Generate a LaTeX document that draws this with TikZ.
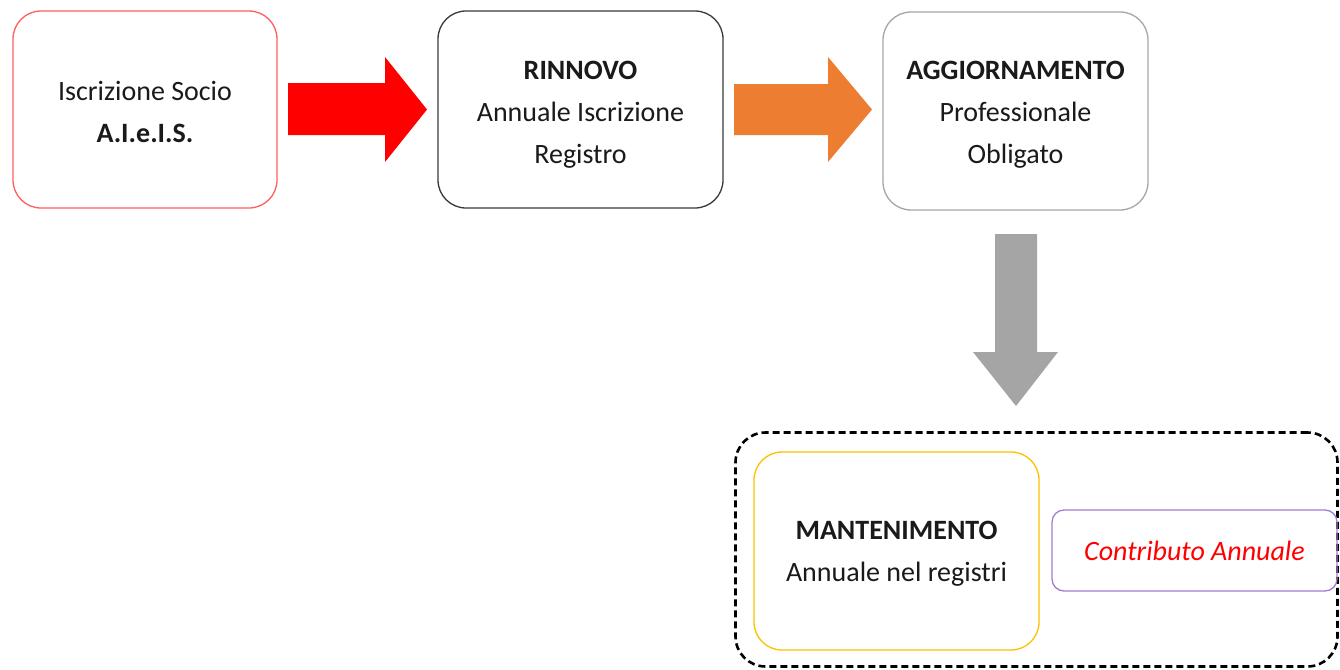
\documentclass[tikz,border=0pt]{standalone}
\usepackage{fontspec}
\setmainfont{Carlito}
\definecolor{txt}{HTML}{1A1A1A}
\definecolor{boxred}{HTML}{FF5F5F}
\definecolor{boxdark}{HTML}{3A3A3A}
\definecolor{boxgray}{HTML}{A6A6A6}
\definecolor{boxgold}{HTML}{FFC000}
\definecolor{boxpurple}{HTML}{A47AD2}
\definecolor{arrred}{HTML}{FF0000}
\definecolor{arrorange}{HTML}{ED7D31}
\definecolor{arrgray}{HTML}{A5A5A5}
\tikzset{
  stepbox/.style={draw, line width=1.3pt, rounded corners=28pt, inner sep=0pt},
  steptext/.style={align=center, text=txt, font=\fontsize{28}{42}\selectfont, inner sep=0pt},
}
\begin{document}
\begin{tikzpicture}[x=1pt,y=-1pt]
\useasboundingbox (0,0) rectangle (1340,669);
\fill[white] (0,0) rectangle (1340,669);

\node[stepbox, draw=boxred, minimum width=264pt, minimum height=197pt] (iscr) at (145,109.5) {};
\node[steptext] (iscrT) at ([yshift=-2.5pt]iscr.center) {Iscrizione Socio\\\textbf{A.I.e.I.S.}};
\node[stepbox, draw=boxdark, minimum width=285pt, minimum height=197pt] (rinn) at (580.5,109.5) {};
\node[steptext] (rinnT) at ([yshift=-5pt]rinn.center) {\textbf{RINNOVO}\\Annuale Iscrizione\\Registro};
\node[stepbox, draw=boxgray, minimum width=265pt, minimum height=198pt] (aggi) at (1015.5,111) {};
\node[steptext] (aggiT) at ([yshift=-3.5pt]aggi.center) {\textbf{AGGIORNAMENTO}\\Professionale\\Obligato};

\node[draw, line width=2.6pt, dash pattern=on 7pt off 4pt, rounded corners=30pt,
  minimum width=602pt, minimum height=234pt] (cont) at (1036.5,549.5) {};
\node[stepbox, draw=boxgold, minimum width=285pt, minimum height=198pt] (mant) at (896.5,551) {};
\node[steptext] (mantT) at ([yshift=-3pt]mant.center) {\textbf{MANTENIMENTO}\\Annuale nel registri};
\node[stepbox, draw=boxpurple, rounded corners=12pt, minimum width=285pt, minimum height=81pt] (contr) at (1194.5,550.5) {};
\node[steptext, text=arrred] (contrT) at (contr.center) {\itshape Contributo Annuale};

% block arrows
\fill[arrred] (288,83) -- (385,83) -- (385,57) -- (427,109.5) -- (385,162) -- (385,135) -- (288,135) -- cycle;
\fill[arrorange] (734,84) -- (828,84) -- (828,57) -- (872,109.5) -- (828,162) -- (828,135) -- (734,135) -- cycle;
\fill[arrgray] (995,234) -- (1037,234) -- (1037,352) -- (1058,352) -- (1016,406) -- (973,352) -- (995,352) -- cycle;
\end{tikzpicture}
\end{document}
